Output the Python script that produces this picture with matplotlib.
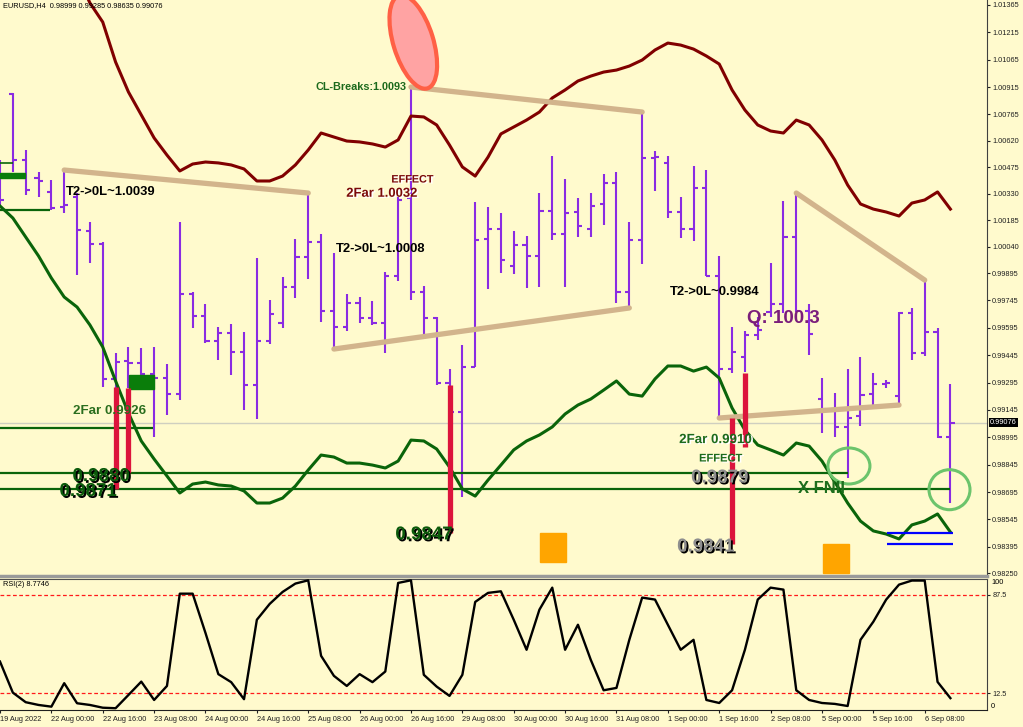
import matplotlib
matplotlib.use("Agg")
import numpy as np
import matplotlib.pyplot as plt
import matplotlib.patheffects as pe
from matplotlib.patches import Ellipse, Rectangle
from matplotlib.transforms import ScaledTranslation, blended_transform_factory

# ---------------- data (EURUSD H4, 19 Aug 08:00 .. 6 Sep 16:00) ----------------
opens = [1.00433, 1.00877, 1.00515, 1.00416, 1.00340, 1.00257, 1.00312, 1.00126, 1.00055, 0.99315,
         0.99413, 0.99402, 0.99342, 0.99320, 0.99232, 0.99781, 0.99660, 0.99523, 0.99567, 0.99463,
         0.99282, 0.99523, 0.99622, 0.99819, 0.99983, 1.00066, 0.99687, 0.99600, 0.99731, 0.99649,
         0.99622, 0.99879, 1.00307, 0.99792, 0.99649, 0.99293, 0.99134, 0.99380, 1.00082, 1.00137,
         0.99934, 1.00049, 0.99989, 1.00236, 1.00109, 1.00230, 1.00137, 1.00274, 1.00389, 0.99792,
         1.00077, 1.00526, 1.00499, 1.00230, 1.00137, 1.00362, 0.99879, 0.99369, 0.99435, 0.99556,
         0.99682, 0.99726, 1.00093, 0.99687, 0.99205, 0.99150, 0.99052, 0.99112, 0.99232, 0.99287,
         0.99221, 0.99676, 0.99457, 0.99572, 0.98999]
highs = [1.00515, 1.00882, 1.00570, 1.00449, 1.00405, 1.00460, 1.00334, 1.00175, 1.00066, 0.99457,
         0.99490, 0.99485, 0.99490, 0.99397, 1.00175, 0.99792, 0.99726, 0.99600, 0.99616, 0.99572,
         0.99978, 0.99748, 0.99874, 1.00082, 1.00334, 1.00109, 1.00005, 0.99781, 0.99764, 0.99742,
         0.99901, 1.00312, 1.00915, 0.99824, 0.99654, 0.99369, 0.99501, 1.00285, 1.00257, 1.00225,
         1.00126, 1.00098, 1.00334, 1.00537, 1.00411, 1.00307, 1.00334, 1.00438, 1.00449, 1.00175,
         1.00778, 1.00564, 1.00537, 1.00312, 1.00482, 1.00460, 0.99989, 0.99600, 0.99578, 0.99654,
         0.99950, 1.00290, 1.00334, 0.99726, 0.99320, 0.99238, 0.99369, 0.99435, 0.99348, 0.99309,
         0.99682, 0.99704, 0.99857, 0.99594, 0.99285]
lows = [1.00268, 1.00449, 1.00323, 1.00312, 1.00241, 1.00225, 0.99885, 0.99950, 0.99271, 0.99265,
        0.99265, 0.99337, 0.98997, 0.99117, 0.99200, 0.99594, 0.99512, 0.99419, 0.99337, 0.99145,
        0.99095, 0.99506, 0.99594, 0.99759, 0.99863, 0.99627, 0.99479, 0.99578, 0.99622, 0.99611,
        0.99457, 0.99852, 0.99748, 0.99556, 0.99282, 0.98980, 0.98668, 0.99380, 0.99808, 0.99896,
        0.99890, 0.99814, 0.99819, 1.00077, 0.99819, 1.00093, 1.00093, 1.00159, 0.99731, 0.99704,
        0.99945, 1.00345, 1.00197, 1.00088, 1.00071, 0.99879, 0.99101, 0.99348, 0.99353, 0.99528,
        0.99654, 0.99676, 0.99682, 0.99446, 0.99019, 0.98997, 0.98772, 0.99057, 0.99172, 0.99265,
        0.99172, 0.99419, 0.99441, 0.98991, 0.98635]
closes = [1.00296, 1.00515, 1.00351, 1.00400, 1.00252, 1.00268, 1.00131, 1.00055, 0.99315, 0.99408,
          0.99402, 0.99342, 0.99320, 0.99232, 0.99781, 0.99660, 0.99523, 0.99567, 0.99463, 0.99282,
          0.99523, 0.99671, 0.99819, 0.99983, 1.00066, 0.99687, 0.99600, 0.99731, 0.99649, 0.99622,
          0.99879, 1.00296, 0.99792, 0.99649, 0.99293, 0.99134, 0.99380, 1.00077, 1.00137, 0.99967,
          1.00049, 0.99989, 1.00236, 1.00109, 1.00225, 1.00153, 1.00263, 1.00389, 0.99792, 1.00077,
          1.00526, 1.00531, 1.00230, 1.00137, 1.00362, 0.99879, 0.99369, 0.99463, 0.99556, 0.99583,
          0.99726, 1.00093, 0.99687, 0.99561, 0.99150, 0.99052, 0.99101, 0.99227, 0.99287, 0.99293,
          0.99676, 0.99457, 0.99572, 0.98997, 0.99076]

# upper band starts at bar 5 (earlier values are off the top of the chart)
upper_start = 5
upper_band = [1.01693, 1.01529, 1.01376, 1.01271, 1.01052, 1.00888, 1.00762, 1.00636, 1.00542, 1.00455,
              1.00493, 1.00504, 1.00499, 1.00488, 1.00466, 1.00400, 1.00400, 1.00427, 1.00488, 1.00570,
              1.00663, 1.00641, 1.00619, 1.00614, 1.00603, 1.00586, 1.00625, 1.00756, 1.00751, 1.00707,
              1.00597, 1.00477, 1.00427, 1.00531, 1.00658, 1.00696, 1.00734, 1.00778, 1.00855, 1.00899,
              1.00948, 1.00975, 1.00997, 1.01008, 1.01030, 1.01063, 1.01118, 1.01156, 1.01145, 1.01123,
              1.01085, 1.01041, 1.00899, 1.00789, 1.00707, 1.00674, 1.00663, 1.00734, 1.00707, 1.00625,
              1.00515, 1.00378, 1.00274, 1.00246, 1.00230, 1.00208, 1.00279, 1.00296, 1.00340, 1.00246]
lower_band = [1.00263, 1.00197, 1.00093, 0.99989, 0.99868, 0.99764, 0.99709, 0.99611, 0.99490, 0.99304,
              0.99128, 0.98975, 0.98876, 0.98783, 0.98690, 0.98739, 0.98750, 0.98734, 0.98728, 0.98701,
              0.98635, 0.98635, 0.98662, 0.98728, 0.98816, 0.98898, 0.98887, 0.98854, 0.98854, 0.98843,
              0.98827, 0.98865, 0.98980, 0.98975, 0.98931, 0.98832, 0.98712, 0.98673, 0.98761, 0.98843,
              0.98926, 0.98975, 0.99008, 0.99052, 0.99123, 0.99172, 0.99205, 0.99254, 0.99304, 0.99232,
              0.99221, 0.99315, 0.99386, 0.99386, 0.99358, 0.99380, 0.99320, 0.99156, 0.99035, 0.98953,
              0.98926, 0.98898, 0.98964, 0.98947, 0.98865, 0.98750, 0.98635, 0.98536, 0.98482, 0.98465,
              0.98438, 0.98515, 0.98536, 0.98575, 0.98476]
rsi = [36.7, 13.0, 5.7, 3.6, 2.3, 20.2, 4.9, 3.6, 1.5, 1.1,
       11.2, 21.4, 7.4, 18.1, 88.5, 88.5, 58.5, 27.1, 21.0, 8.0,
       68.6, 80.7, 89.8, 96.2, 98.7, 41.1, 25.8, 18.1, 27.1, 21.0,
       29.1, 96.7, 98.7, 26.6, 17.6, 10.5, 26.6, 82.2, 89.1, 90.3,
       68.6, 45.7, 76.3, 93.1, 45.7, 64.8, 38.0, 14.8, 16.6, 53.3,
       85.5, 84.0, 64.8, 45.7, 53.3, 7.4, 5.1, 14.8, 45.7, 84.0,
       93.1, 91.6, 14.8, 7.4, 5.1, 4.4, 2.8, 53.3, 67.1, 84.0,
       95.4, 98.5, 98.5, 21.2, 8.8]

price_ticks = [1.01365, 1.01215, 1.01065, 1.00915, 1.00765, 1.00620, 1.00475, 1.00330, 1.00185, 1.00040,
               0.99895, 0.99745, 0.99595, 0.99445, 0.99295, 0.99145, 0.98995, 0.98845, 0.98695, 0.98545,
               0.98395, 0.98250]
time_bars = [0, 4, 8, 12, 16, 20, 24, 28, 32, 36, 40, 44, 48, 52, 56, 60, 64, 68, 72]
time_labels = ["19 Aug 2022", "22 Aug 00:00", "22 Aug 16:00", "23 Aug 08:00", "24 Aug 00:00",
               "24 Aug 16:00", "25 Aug 08:00", "26 Aug 00:00", "26 Aug 16:00", "29 Aug 08:00",
               "30 Aug 00:00", "30 Aug 16:00", "31 Aug 08:00", "1 Sep 00:00", "1 Sep 16:00",
               "2 Sep 08:00", "5 Sep 00:00", "5 Sep 16:00", "6 Sep 08:00"]

last_price = 0.99076
# trend lines: (bar, "high"/"low") -> (bar, "high"/"low")
trend_lines = [((5, "high"), (24, "high")), ((32, "high"), (50, "high")),
               ((26, "low"), (49, "low")), ((62, "high"), (72, "high")),
               ((56, "low"), (70, "low"))]
# red target bars: drawn one bar right of the source bar, from its low to a level
red_src = [8, 9, 34, 56, 57]
red_level = [0.9871, 0.9880, 0.9847, 0.9841, 0.9894]
level_lines = [0.9880, 0.9871]
level_ends = [66.0, 74.0]
blue_levels = [0.9847, 0.9841]

# ---------------- styling ----------------
BG = "#FFFACD"
BAR = "#8A2BE2"
SANS = ["Liberation Sans", "DejaVu Sans"]
W, H = 1023, 727

fig = plt.figure(figsize=(W / 100, H / 100), dpi=100)
fig.patch.set_facecolor(BG)
ax = fig.add_axes([0, 1 - 576 / H, 987 / W, 576 / H])
rx = fig.add_axes([0, 1 - 710 / H, 987 / W, (710 - 578.6) / H], sharex=ax)
for a in (ax, rx):
    a.set_facecolor(BG)
    for s in ("left", "top"):
        a.spines[s].set_visible(False)
    a.spines["right"].set_color("#404040")
ax.spines["bottom"].set_color("#9A9A9A")
ax.spines["bottom"].set_linewidth(2.5)
rx.spines["top"].set_visible(True)
rx.spines["top"].set_color("#505050")
rx.spines["bottom"].set_color("#202020")

idx = np.arange(len(opens))
ax.set_xlim(0.04, 76.85)
ax.set_ylim(0.98235, 1.01392)

# current price line
ax.axhline(last_price, color="#CFCFC0", lw=1.0, zorder=1)

# OHLC bars
ax.vlines(idx, lows, highs, color=BAR, lw=1.5, zorder=2)
ax.hlines(opens, idx - 0.32, idx, color=BAR, lw=1.5, zorder=2)
ax.hlines(closes, idx, idx + 0.32, color=BAR, lw=1.5, zorder=2)

# bands
ax.plot(idx[upper_start:], upper_band, color="#800000", lw=2.2, zorder=3)
ax.plot(idx, lower_band, color="#0A640A", lw=2.2, zorder=3)

# horizontal level objects
for lv, end in zip(level_lines, level_ends):
    ax.hlines(lv, 0, end, color="#0A640A", lw=1.6, zorder=3)
ax.hlines(0.99046, 0, 11.95, color="#0A640A", lw=1.6, zorder=3)
ax.hlines(1.00241, 0, 3.9, color="#0A640A", lw=1.6, zorder=3)
ax.hlines(1.00500, 0, 1.0, color="#0A640A", lw=1.2, zorder=3)
ax.add_patch(Rectangle((0.0, 1.00416), 1.95, 0.00028, color="#0A7D0A", zorder=3))
ax.add_patch(Rectangle((10.02, 0.99260), 1.95, 0.00077, color="#0A7D0A", zorder=3))
for lv in blue_levels:
    ax.hlines(lv, 69.1, 74.2, color="#0000FF", lw=1.6, zorder=4)

# trend lines
pick = {"high": highs, "low": lows}
for (b0, k0), (b1, k1) in trend_lines:
    ax.plot([b0, b1], [pick[k0][b0], pick[k1][b1]], color="#D2B48C", lw=3.8,
            solid_capstyle="round", zorder=4)

# red target bars
for src, lv in zip(red_src, red_level):
    ax.vlines(src + 1, lv, lows[src], color="#DC143C", lw=3.8, zorder=4)

# orange squares
ax.add_patch(Rectangle((42.06, 0.98312), 2.0, 0.00159, color="#FFA500", zorder=4))
ax.add_patch(Rectangle((64.1, 0.98253), 2.0, 0.00157, color="#FFA500", zorder=4))


def px_ellipse(x, y, w_in, h_in, angle, **kw):
    tr = fig.dpi_scale_trans + ScaledTranslation(x, y, ax.transData)
    ax.add_patch(Ellipse((0, 0), w_in, h_in, angle=angle, transform=tr, **kw))


px_ellipse(32.18, 1.01162, 0.40, 0.97, 17, facecolor="#FFA3A3", edgecolor="#FF6045",
           lw=3.0, zorder=5, clip_on=True)
px_ellipse(66.1, 0.98838, 0.42, 0.36, 0, facecolor="none", edgecolor="#6CC46C", lw=2.2, zorder=5)
px_ellipse(73.93, 0.98708, 0.41, 0.40, 0, facecolor="none", edgecolor="#6CC46C", lw=2.2, zorder=5)

# text annotations
shadow_dark = [pe.SimplePatchShadow(offset=(1.3, -1.3), shadow_rgbFace="black", alpha=1.0), pe.Normal()]
shadow_white = [pe.SimplePatchShadow(offset=(1.2, -0.8), shadow_rgbFace="white", alpha=1.0), pe.Normal()]


def note(x, y, s, size, color, fx=None):
    ax.text(x, y, s, fontsize=size, color=color, family=SANS, weight="bold",
            ha="left", va="center", path_effects=fx, zorder=8)


note(5.10, 1.00340, "T2->0L~1.0039", 9.4, "black")
note(26.19, 1.00027, "T2->0L~1.0008", 9.4, "black")
note(52.18, 0.99792, "T2->0L~0.9984", 9.4, "black")
note(24.55, 1.00915, "CL-Breaks:1.0093", 7.8, "#1C6A1C")
note(30.47, 1.00408, "EFFECT", 7.8, "#7A0A0A", shadow_white)
note(26.96, 1.00330, "2Far 1.0032", 9.4, "#7A0A0A", shadow_white)
note(5.72, 0.99137, "2Far 0.9926", 9.6, "#2A6E1E")
note(52.88, 0.98980, "2Far 0.9910", 9.6, "#1C6A1C", shadow_white)
note(54.43, 0.98879, "EFFECT", 8.0, "#1C6A1C", shadow_white)
note(58.17, 0.99644, "Q: 100.3", 13.5, "#7B1E7B")
note(62.14, 0.98712, "X-FNII", 12, "#1E6E1E")
note(5.64, 0.98780, "0.9880", 13.5, "#0B5A0B", shadow_dark)
note(4.63, 0.98698, "0.9871", 13.5, "#0B5A0B", shadow_dark)
note(30.78, 0.98460, "0.9847", 13.5, "#0B5A0B", shadow_dark)
note(53.81, 0.98772, "0.9879", 13.5, "#8E8E8E", shadow_dark)
note(52.72, 0.98394, "0.9841", 13.5, "#8E8E8E", shadow_dark)

# price axis
ax.yaxis.tick_right()
ax.set_yticks(price_ticks)
ax.set_yticklabels([f"{p:.5f}" for p in price_ticks], family=SANS, fontsize=5.3)
ax.tick_params(axis="y", length=2.5, pad=1.2, width=0.8, colors="#202020")
ax.tick_params(axis="x", bottom=False, labelbottom=False)
bt = blended_transform_factory(ax.transAxes, ax.transData)
ax.text(1.003, last_price, f"{last_price:.5f}", transform=bt, fontsize=5.3, family=SANS,
        color="white", va="center", ha="left", zorder=10, clip_on=False,
        bbox=dict(facecolor="black", edgecolor="none", pad=0.9))

# RSI panel
rx.plot(idx, rsi, color="black", lw=1.7, zorder=3)
for lv in (87.5, 12.5):
    rx.axhline(lv, color="#FF1A1A", lw=0.9, ls=(0, (3, 2)), zorder=2)
rx.set_ylim(-0.25, 100)
rx.yaxis.tick_right()
rx.set_yticks([12.5, 87.5])
rx.set_yticklabels(["12.5", "87.5"], family=SANS, fontsize=5.3)
rx.tick_params(axis="y", length=2.5, pad=1.2, width=0.8, colors="#202020")
rbt = blended_transform_factory(rx.transAxes, rx.transData)
rx.text(1.004, 100, "100", transform=rbt, fontsize=5.3, family=SANS, va="top", ha="left")
rx.text(1.004, 0, "0", transform=rbt, fontsize=5.3, family=SANS, va="bottom", ha="left")

rx.set_xticks(time_bars)
rx.set_xticklabels(time_labels, family=SANS, fontsize=5.3)
for lbl in rx.get_xticklabels():
    lbl.set_horizontalalignment("left")
rx.tick_params(axis="x", length=2.5, pad=1.5, width=0.8, colors="#202020")

fig.text(3 / W, 1 - 6 / H, "EURUSD,H4  0.98999 0.99285 0.98635 0.99076", fontsize=5.3,
         family=SANS, va="center", ha="left")
fig.text(3 / W, 1 - 585 / H, "RSI(2) 8.7746", fontsize=5.3, family=SANS, va="center", ha="left")

fig.savefig("out.png", dpi=100, facecolor=BG)
